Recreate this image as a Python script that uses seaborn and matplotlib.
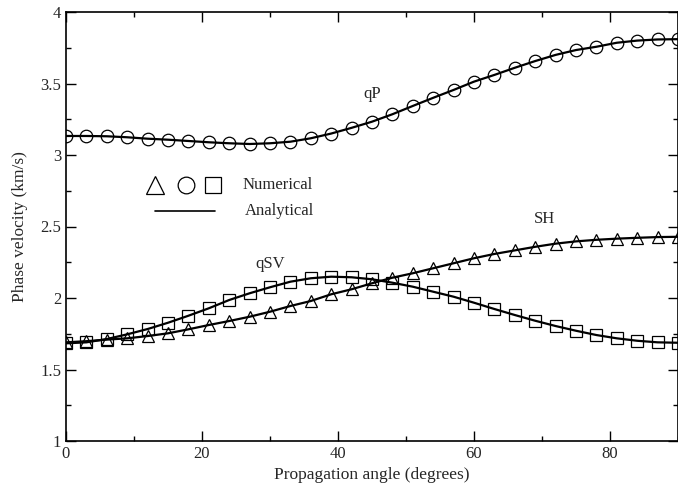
import numpy as np
import pandas as pd
import matplotlib
matplotlib.use("Agg")
import matplotlib.pyplot as plt
import seaborn as sns

angles = list(range(0, 91, 3))
qP = [3.133, 3.133, 3.131, 3.124, 3.114, 3.107, 3.098, 3.089, 3.082, 3.077,
      3.082, 3.093, 3.117, 3.150, 3.190, 3.233, 3.285, 3.343, 3.400, 3.455,
      3.513, 3.560, 3.610, 3.657, 3.700, 3.734, 3.757, 3.785, 3.800, 3.808, 3.810]
SH = [1.690, 1.698, 1.709, 1.718, 1.734, 1.753, 1.781, 1.811, 1.839, 1.869,
      1.904, 1.944, 1.979, 2.026, 2.061, 2.103, 2.142, 2.173, 2.208, 2.243,
      2.278, 2.308, 2.333, 2.358, 2.380, 2.396, 2.407, 2.415, 2.421, 2.426, 2.428]
qSV = [1.683, 1.690, 1.713, 1.746, 1.783, 1.827, 1.876, 1.928, 1.986, 2.033,
       2.075, 2.114, 2.138, 2.149, 2.145, 2.131, 2.107, 2.079, 2.044, 2.009,
       1.967, 1.923, 1.881, 1.841, 1.804, 1.771, 1.741, 1.718, 1.701, 1.690, 1.687]

sns.set_theme(style="ticks")
plt.rcParams['font.family'] = ['Liberation Serif', 'DejaVu Serif']
plt.rcParams['font.size'] = 12

fig = plt.figure(figsize=(6.78, 4.92), dpi=100)
ax = fig.add_axes([66/678, 51/492, 612/678, 429/492])

df = pd.DataFrame({"angle": angles, "qP": qP, "SH": SH, "qSV": qSV})
for col, mk in [("qP", "o"), ("SH", "^"), ("qSV", "s")]:
    sns.lineplot(data=df, x="angle", y=col, ax=ax, color="black", linewidth=1.6,
                 marker=mk, markersize=9 if mk != "s" else 8,
                 markerfacecolor="none", markeredgecolor="black",
                 markeredgewidth=0.9)

ax.set_xlim(0, 90)
ax.set_ylim(1, 4)
ax.set_xticks([0, 20, 40, 60, 80])
ax.set_xticks([10, 30, 50, 70, 90], minor=True)
ax.set_yticks([1, 1.5, 2, 2.5, 3, 3.5, 4])
ax.set_yticklabels(["1", "1.5", "2", "2.5", "3", "3.5", "4"])
ax.set_yticks(np.arange(1.25, 4, 0.5), minor=True)
ax.tick_params(which="both", direction="in", top=True, right=True,
               labelsize=12, color="black", width=1)
ax.tick_params(which="major", length=7)
ax.tick_params(which="minor", length=3.5)
for s in ax.spines.values():
    s.set_linewidth(1.2)
    s.set_color("black")
ax.set_xlabel("Propagation angle (degrees)", fontsize=12.5, labelpad=4)
ax.set_ylabel("Phase velocity (km/s)", fontsize=12.5, labelpad=9)

ax.text(45, 3.43, "qP", ha="center", va="center", fontsize=12)
ax.text(70.4, 2.555, "SH", ha="center", va="center", fontsize=12)
ax.text(30, 2.24, "qSV", ha="center", va="center", fontsize=12)

# legend drawn in axes fraction
ly1, ly2 = 0.597, 0.536
ax.plot([0.1454], [ly1], marker="^", markersize=13, mfc="none", mec="black",
        mew=0.9, transform=ax.transAxes, clip_on=False)
ax.plot([0.1953], [ly1], marker="o", markersize=12, mfc="none", mec="black",
        mew=0.9, transform=ax.transAxes, clip_on=False)
ax.plot([0.2395], [ly1], marker="s", markersize=11, mfc="none", mec="black",
        mew=0.9, transform=ax.transAxes, clip_on=False)
ax.text(0.289, ly1, "Numerical", transform=ax.transAxes, ha="left", va="center", fontsize=12)
ax.plot([0.1454, 0.2435], [ly2, ly2], color="black", linewidth=1.2, transform=ax.transAxes)
ax.text(0.292, ly2, "Analytical", transform=ax.transAxes, ha="left", va="center", fontsize=12)

fig.savefig("out.png", dpi=100)
